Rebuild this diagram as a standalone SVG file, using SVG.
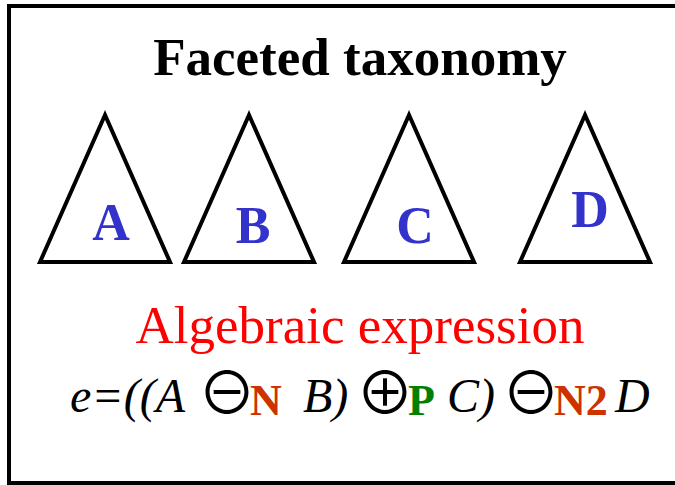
<svg xmlns="http://www.w3.org/2000/svg" width="675" height="485" viewBox="0 0 675 485">
<style>
.tri{fill:none;stroke:#000;stroke-width:4;stroke-linejoin:miter}
.lbl{font-family:"Liberation Serif","Times New Roman",serif;font-weight:bold;font-size:52px;fill:#3333CC}
.it{font-family:"Liberation Serif","Times New Roman",serif;font-style:italic;font-size:48px;fill:#000}
.sub{font-family:"Liberation Serif","Times New Roman",serif;font-weight:bold;font-size:44px}
.op{font-family:"Noto Sans CJK JP","DejaVu Sans",sans-serif;font-size:58px;letter-spacing:-6px;fill:#000}
</style>
<rect width="675" height="485" fill="#fff"/>
<rect x="9" y="6" width="700" height="477" fill="none" stroke="#000" stroke-width="4"/>
<g id="title">
<text x="360" y="75" text-anchor="middle" font-family="Liberation Serif,Times New Roman,serif" font-weight="bold" font-size="53" fill="#000">Faceted taxonomy</text>
</g>
<g id="facet-A">
<polygon class="tri" points="105,115 40,262 170,262"/>
<text class="lbl" x="111" y="240" text-anchor="middle">A</text>
</g>
<g id="facet-B">
<polygon class="tri" points="249,115 184,262 314,262"/>
<text class="lbl" x="253" y="243" text-anchor="middle">B</text>
</g>
<g id="facet-C">
<polygon class="tri" points="409,115 344,262 474,262"/>
<text class="lbl" x="415" y="243" text-anchor="middle">C</text>
</g>
<g id="facet-D">
<polygon class="tri" points="585,115 520,262 650,262"/>
<text class="lbl" x="590" y="227" text-anchor="middle">D</text>
</g>
<g id="algebra">
<text x="360" y="343" text-anchor="middle" font-family="Liberation Serif,Times New Roman,serif" font-size="53" fill="#FF0000">Algebraic expression</text>
<text class="it" x="70" y="412">e=((A</text>
<text x="198" y="414"><tspan class="op">⊖</tspan><tspan class="sub" dy="1" fill="#CC3300">N</tspan></text>
<text class="it" x="303" y="412">B)</text>
<text x="356" y="414"><tspan class="op">⊕</tspan><tspan class="sub" dy="1" fill="#008000">P</tspan></text>
<text class="it" x="447" y="412">C)</text>
<text x="502" y="414"><tspan class="op">⊖</tspan><tspan class="sub" dy="1" fill="#CC3300">N2</tspan></text>
<text class="it" x="615" y="412">D</text>
</g>
</svg>
